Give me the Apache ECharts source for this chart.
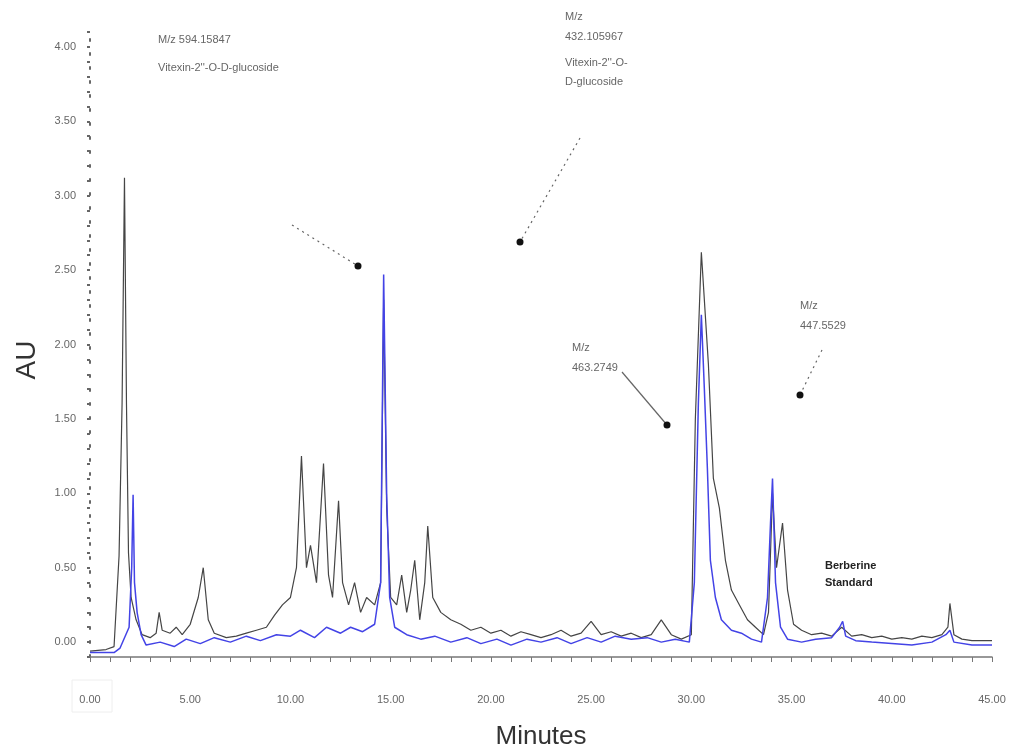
<!DOCTYPE html>
<html>
<head>
<meta charset="utf-8">
<style>
  html, body { margin: 0; padding: 0; background: #ffffff; }
  #chart_main { width: 1012px; height: 747px; }
</style>
<script src="https://cdn.jsdelivr.net/npm/echarts@6/dist/echarts.min.js"></script>
</head>
<body>
<div id="chart_main"></div>
<script>
  // sample trace (black), [minutes, AU]
  var sampleTrace = [
    [0,-0.06],[0.8,-0.05],[1.2,-0.03],[1.45,0.58],[1.6,1.6],[1.72,3.12],[1.82,1.6],[1.92,0.6],[2.05,0.3],[2.3,0.15],
    [2.6,0.05],[3.0,0.03],[3.3,0.06],[3.45,0.2],[3.6,0.08],[4.0,0.06],[4.3,0.1],[4.6,0.05],[5.0,0.12],[5.4,0.3],
    [5.65,0.5],[5.9,0.15],[6.2,0.06],[6.8,0.03],[7.3,0.04],[7.8,0.06],[8.3,0.08],[8.8,0.1],[9.2,0.18],[9.6,0.25],
    [10.0,0.3],[10.3,0.5],[10.55,1.25],[10.8,0.5],[11.0,0.65],[11.3,0.4],[11.65,1.2],[11.9,0.45],[12.1,0.3],[12.4,0.95],
    [12.6,0.4],[12.9,0.25],[13.2,0.4],[13.5,0.2],[13.8,0.3],[14.2,0.25],[14.5,0.4],[14.65,2.3],[14.8,0.9],[15.0,0.3],
    [15.3,0.25],[15.55,0.45],[15.8,0.2],[16.0,0.35],[16.2,0.55],[16.45,0.15],[16.7,0.4],[16.85,0.78],[17.1,0.3],[17.5,0.2],
    [18,0.15],[18.5,0.12],[19,0.08],[19.5,0.1],[20,0.06],[20.5,0.08],[21,0.04],[21.5,0.07],[22,0.05],[22.5,0.03],
    [23,0.05],[23.5,0.08],[24,0.04],[24.5,0.06],[25,0.14],[25.5,0.05],[26,0.07],[26.5,0.04],[27,0.06],[27.5,0.03],
    [28,0.05],[28.5,0.15],[29,0.05],[29.5,0.02],[30.0,0.05],[30.2,1.5],[30.5,2.62],[30.85,1.87],[31.1,1.1],[31.4,0.9],
    [31.7,0.55],[32.0,0.35],[32.4,0.25],[32.8,0.15],[33.2,0.1],[33.6,0.05],[33.85,0.2],[34.05,1.0],[34.25,0.5],[34.55,0.8],
    [34.8,0.35],[35.1,0.12],[35.5,0.08],[36,0.05],[36.5,0.06],[37,0.04],[37.5,0.1],[38,0.04],[38.5,0.05],[39,0.03],
    [39.5,0.04],[40,0.02],[40.5,0.03],[41,0.02],[41.5,0.04],[42,0.03],[42.5,0.05],[42.8,0.1],[42.9,0.26],[43.1,0.05],
    [43.5,0.02],[44,0.01],[45,0.01]
  ];
  // standard trace (blue)
  var standardTrace = [
    [0,-0.07],[1.2,-0.07],[1.5,-0.04],[1.95,0.1],[2.08,0.5],[2.15,0.99],[2.22,0.4],[2.35,0.2],[2.55,0.05],[2.8,-0.02],
    [3.5,0.0],[4.2,-0.03],[4.8,0.02],[5.5,-0.01],[6.2,0.03],[7.0,0.0],[7.8,0.04],[8.5,0.01],[9.3,0.05],[10.0,0.04],
    [10.5,0.08],[11.2,0.03],[11.8,0.1],[12.5,0.06],[13.0,0.1],[13.6,0.07],[14.2,0.12],[14.5,0.4],[14.65,2.47],[14.8,1.0],
    [14.95,0.3],[15.2,0.1],[15.8,0.05],[16.5,0.02],[17.2,0.04],[18,0.0],[18.8,0.03],[19.5,-0.01],[20.3,0.02],[21,-0.02],
    [21.8,0.02],[22.5,0.0],[23.3,0.03],[24,-0.01],[24.8,0.03],[25.5,0.0],[26.2,0.04],[27,0.02],[27.8,0.03],[28.5,0.0],
    [29.2,0.02],[29.9,0.0],[30.15,0.4],[30.35,1.6],[30.5,2.2],[30.65,1.7],[30.8,1.17],[30.95,0.55],[31.2,0.3],[31.5,0.15],
    [32,0.08],[32.5,0.06],[33,0.02],[33.5,0.0],[33.8,0.3],[33.95,0.8],[34.05,1.1],[34.2,0.4],[34.45,0.1],[34.8,0.02],
    [35.5,0.0],[36.2,0.02],[37.0,0.03],[37.4,0.1],[37.55,0.14],[37.7,0.04],[38.2,0.01],[39,0.0],[40,-0.01],[41,-0.02],
    [42,0.0],[42.7,0.05],[42.9,0.08],[43.1,0.0],[44,-0.02],[45,-0.02]
  ];
  var auTicks = [0, 0.5, 1, 1.5, 2, 2.5, 3, 3.5, 4];
  var minuteTicks = [0, 5, 10, 15, 20, 25, 30, 35, 40, 45];

  var auMinor = [], minuteMinor = [];
  for (var i = -1; i <= 41; i++) auMinor.push(i / 10);
  for (var j = 0; j <= 45; j++) minuteMinor.push(j);

  var txt = { fontFamily: 'Liberation Sans', fontSize: 11, fill: '#666' };
  function label(x, y, s, extra) {
    return { type: 'text', left: x, top: y, style: Object.assign({ text: s }, txt, extra || {}) };
  }
  function leader(x1, y1, x2, y2, dashed) {
    return [
      { type: 'line', shape: { x1: x1, y1: y1, x2: x2, y2: y2 },
        style: { stroke: '#666', lineWidth: 1.2, lineDash: dashed ? [2, 4] : null } },
      { type: 'circle', shape: { cx: x2, cy: y2, r: 3.5 }, style: { fill: '#111' } }
    ];
  }

  var myChart = echarts.init(document.getElementById('chart_main'));
  var option = {
    animation: false,
    backgroundColor: '#ffffff',
    grid: { left: 90, right: 20, top: 32, bottom: 90, outerBoundsMode: 'none' },
    xAxis: {
      type: 'value', min: 0, max: 45,
      name: 'Minutes', nameLocation: 'middle', nameGap: 67,
      nameTextStyle: { fontFamily: 'Liberation Sans', fontSize: 26, color: '#333' },
      axisLine: { onZero: false, lineStyle: { color: '#777', width: 1.5 } },
      axisTick: { customValues: minuteMinor, length: 5, lineStyle: { color: '#777' } },
      axisLabel: {
        customValues: minuteTicks, margin: 37, color: '#666', fontSize: 11, fontFamily: 'Liberation Sans',
        formatter: function (v) { return v.toFixed(2); }
      },
      splitLine: { show: false }
    },
    yAxis: {
      type: 'value', min: -0.1, max: 4.1,
      axisLine: { show: true, lineStyle: { color: '#666', type: [2, 12], width: 2 } },
      axisTick: { show: true, customValues: auMinor, length: 3, lineStyle: { color: '#666', width: 2 } },
      axisLabel: {
        customValues: auTicks, margin: 14, color: '#666', fontSize: 11, fontFamily: 'Liberation Sans',
        formatter: function (v) { return v.toFixed(2); }
      },
      splitLine: { show: false }
    },
    series: [
      {
        name: 'sample', type: 'line', data: sampleTrace, showSymbol: false,
        lineStyle: { color: '#454545', width: 1.2 }
      },
      {
        name: 'standard', type: 'line', data: standardTrace, showSymbol: false,
        lineStyle: { color: '#4343e6', width: 1.5 }
      }
    ],
    graphic: [
      { type: 'text', x: 27, y: 360, rotation: Math.PI / 2,
        style: { text: 'AU', fontFamily: 'Liberation Sans', fontSize: 28, fill: '#333', align: 'center', verticalAlign: 'middle' } },
      { type: 'rect', shape: { x: 72, y: 680, width: 40, height: 32 }, style: { fill: 'none', stroke: '#eeeeee' } },
      label(158, 34, 'M/z 594.15847'),
      label(158, 62, "Vitexin-2''-O-D-glucoside"),
      label(565, 11, 'M/z'),
      label(565, 31, '432.105967'),
      label(565, 57, "Vitexin-2''-O-"),
      label(565, 76, 'D-glucoside'),
      label(572, 342, 'M/z'),
      label(572, 362, '463.2749'),
      label(800, 300, 'M/z'),
      label(800, 320, '447.5529'),
      label(825, 560, 'Berberine', { fill: '#222', fontWeight: 'bold' }),
      label(825, 577, 'Standard', { fill: '#222', fontWeight: 'bold' })
    ].concat(
      leader(292, 225, 358, 266, true),
      leader(580, 138, 520, 242, true),
      leader(622, 372, 667, 425, false),
      leader(822, 350, 800, 395, true)
    )
  };
  myChart.setOption(option);
</script>
</body>
</html>
